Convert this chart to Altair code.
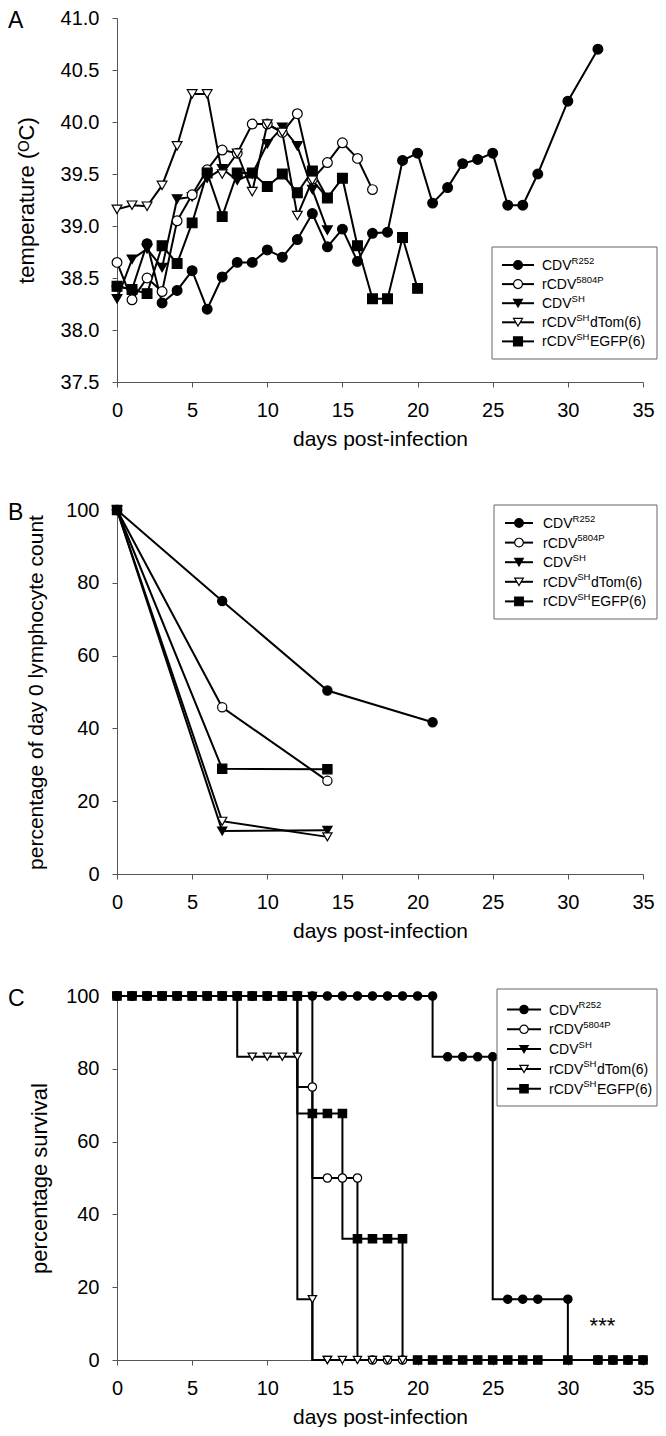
import altair as alt
import pandas as pd

FONT = "Liberation Sans"

# ---------------- series / legend definitions ----------------
SERIES = ["CDV R252", "rCDV 5804P", "CDV SH", "rCDV SH dTom(6)", "rCDV SH EGFP(6)"]
LEG_BASE = ["CDV", "rCDV", "CDV", "rCDV", "rCDV"]
LEG_SUP = ["R252", "5804P", "SH", "SH", "SH"]
LEG_SUFFIX = ["", "", "", "dTom(6)", "EGFP(6)"]
SHAPES = ["circle", "circle", "triangle-down", "triangle-down", "square"]
FILLS = ["black", "white", "black", "white", "black"]
DRAW_ORDER = ["CDV SH", "rCDV 5804P", "rCDV SH dTom(6)", "rCDV SH EGFP(6)", "CDV R252"]

X_TICKS = [0, 5, 10, 15, 20, 25, 30, 35]
A_Y_TICKS = [37.5, 38.0, 38.5, 39.0, 39.5, 40.0, 40.5, 41.0]
B_Y_TICKS = [0, 20, 40, 60, 80, 100]
C_Y_TICKS = [0, 20, 40, 60, 80, 100]

# ---------------- Panel A: temperature ----------------
A_R252_DAYS = [0, 1, 2, 3, 4, 5, 6, 7, 8, 9, 10, 11, 12, 13, 14, 15, 16, 17, 18, 19,
               20, 21, 22, 23, 24, 25, 26, 27, 28, 30, 32]
A_R252_VAL = [38.42, 38.39, 38.83, 38.26, 38.38, 38.57, 38.20, 38.51, 38.65, 38.65,
              38.77, 38.70, 38.87, 39.12, 38.80, 38.97, 38.66, 38.93, 38.94, 39.63,
              39.70, 39.22, 39.37, 39.60, 39.64, 39.70, 39.20, 39.20, 39.50, 40.20, 40.70]
A_5804P_DAYS = [0, 1, 2, 3, 4, 5, 6, 7, 8, 9, 10, 11, 12, 13, 14, 15, 16, 17]
A_5804P_VAL = [38.65, 38.29, 38.50, 38.37, 39.05, 39.30, 39.54, 39.73, 39.70, 39.98,
               39.98, 39.90, 40.08, 39.45, 39.61, 39.80, 39.65, 39.35]
A_SH_DAYS = [0, 1, 2, 3, 4, 5, 6, 7, 8, 9, 10, 11, 12, 13, 14]
A_SH_VAL = [38.30, 38.68, 38.78, 38.60, 39.26, 39.28, 39.46, 39.55, 39.44, 39.50,
            39.79, 39.95, 39.77, 39.35, 38.96]
A_DTOM_DAYS = [0, 1, 2, 3, 4, 5, 6, 7, 8, 9, 10, 11, 12, 13, 14]
A_DTOM_VAL = [39.16, 39.20, 39.19, 39.39, 39.77, 40.27, 40.27, 39.50, 39.70, 39.33,
              39.98, 39.90, 39.10, 39.44, 39.27]
A_EGFP_DAYS = [0, 1, 2, 3, 4, 5, 6, 7, 8, 9, 10, 11, 12, 13, 14, 15, 16, 17, 18, 19, 20]
A_EGFP_VAL = [38.42, 38.39, 38.35, 38.81, 38.64, 39.03, 39.51, 39.09, 39.51, 39.51,
              39.38, 39.50, 39.32, 39.53, 39.27, 39.46, 38.81, 38.30, 38.30, 38.89, 38.40]

# ---------------- Panel B: lymphocytes ----------------
B_R252_DAYS = [0, 7, 14, 21]
B_R252_VAL = [100, 75.0, 50.4, 41.7]
B_5804P_DAYS = [0, 7, 14]
B_5804P_VAL = [100, 45.8, 25.6]
B_SH_DAYS = [0, 7, 14]
B_SH_VAL = [100, 11.8, 12.0]
B_DTOM_DAYS = [0, 7, 14]
B_DTOM_VAL = [100, 14.5, 10.2]
B_EGFP_DAYS = [0, 7, 14]
B_EGFP_VAL = [100, 28.9, 28.8]

# ---------------- Panel C: survival ----------------
C_R252_DAYS = [0, 1, 2, 3, 4, 5, 6, 7, 8, 9, 10, 11, 12, 13, 14, 15, 16, 17, 18, 19, 20, 21,
               22, 23, 24, 25, 26, 27, 28, 30, 32, 33, 34, 35]
C_R252_VAL = [100, 100, 100, 100, 100, 100, 100, 100, 100, 100, 100, 100, 100, 100, 100,
              100, 100, 100, 100, 100, 100, 100,
              83.3, 83.3, 83.3, 83.3, 16.7, 16.7, 16.7, 16.7, 0, 0, 0, 0]
C_5804P_DAYS = [0, 1, 2, 3, 4, 5, 6, 7, 8, 9, 10, 11, 12, 13, 14, 15, 16, 17, 18, 19]
C_5804P_VAL = [100, 100, 100, 100, 100, 100, 100, 100, 100, 100, 100, 100, 100,
               75, 50, 50, 50, 0, 0, 0]
C_SH_DAYS = [0, 1, 2, 3, 4, 5, 6, 7, 8, 9, 10, 11, 12, 13, 14]
C_SH_VAL = [100, 100, 100, 100, 100, 100, 100, 100, 100, 100, 100, 100, 100, 100, 0]
C_DTOM_DAYS = [0, 1, 2, 3, 4, 5, 6, 7, 8, 9, 10, 11, 12, 13, 14, 15, 16, 17, 18, 19]
C_DTOM_VAL = [100, 100, 100, 100, 100, 100, 100, 100, 100, 83.3, 83.3, 83.3, 83.3,
              16.7, 0, 0, 0, 0, 0, 0]
C_EGFP_DAYS = [0, 1, 2, 3, 4, 5, 6, 7, 8, 9, 10, 11, 12, 13, 14, 15, 16, 17, 18, 19,
               20, 21, 22, 23, 24, 25, 26, 27, 28, 30, 32, 33, 34, 35]
C_EGFP_VAL = [100, 100, 100, 100, 100, 100, 100, 100, 100, 100, 100, 100, 100,
              67.7, 67.7, 67.7, 33.3, 33.3, 33.3, 33.3,
              0, 0, 0, 0, 0, 0, 0, 0, 0, 0, 0, 0, 0, 0]
C_STAR_DAY = [32.3]
C_STAR_VAL = [7.5]
C_STAR_TEXT = ["***"]

# ---------------- helpers ----------------
ARIAL = {"r": 333, "C": 722, "D": 722, "V": 667, "R": 722, "2": 556, "5": 556, "8": 556,
         "0": 556, "4": 556, "P": 667, "S": 667, "H": 722, "d": 556, "T": 611, "o": 556,
         "m": 833, "(": 333, "6": 556, ")": 333, "E": 667, "G": 778, "F": 611}


def text_w(s, fs):
    return sum(ARIAL.get(c, 556) for c in s) / 1000.0 * fs


def long_df(days_lists, val_lists):
    rows = []
    for s, ds, vs in zip(SERIES, days_lists, val_lists):
        for d, v in zip(ds, vs):
            rows.append({"series": s, "day": d, "val": v, "ord": DRAW_ORDER.index(s)})
    df = pd.DataFrame(rows)
    return df.sort_values(["ord", "day"], kind="stable").reset_index(drop=True)


AX = dict(grid=False, tickSize=5, tickColor="#555555", domainColor="#555555",
          labelFontSize=20, labelColor="black", labelFont=FONT, titleFont=FONT,
          titleColor="black", titleFontWeight="normal", labelFlush=False,
          labelOverlap=False)

SHAPE_ENC = alt.Shape("series:N", scale=alt.Scale(domain=SERIES, range=SHAPES), legend=None)
FILL_ENC = alt.Fill("series:N", scale=alt.Scale(domain=SERIES, range=FILLS), legend=None)

W = 526
H = 364


def main_group(df, ydom, yticks, yfmt, ytitle, ytitle_pad, ytitle_fs, interp, msize,
               extra=None):
    xenc = alt.X("day:Q", scale=alt.Scale(domain=[0, 35], nice=False),
                 axis=alt.Axis(values=X_TICKS, title="days post-infection", labelPadding=13,
                               titlePadding=8, titleFontSize=21, **AX))
    yenc = alt.Y("val:Q", scale=alt.Scale(domain=ydom, nice=False, zero=False),
                 axis=alt.Axis(values=yticks, format=yfmt, title=ytitle, labelPadding=13,
                               titlePadding=ytitle_pad, titleFontSize=ytitle_fs, **AX))
    line = alt.Chart(df).mark_line(color="black", strokeWidth=2, interpolate=interp).encode(
        x=xenc, y=yenc, detail="series:N", order="day:Q")
    pts = alt.Chart(df).mark_point(filled=True, size=msize, stroke="black", strokeWidth=1.2,
                                   opacity=1).encode(
        x="day:Q", y="val:Q", shape=SHAPE_ENC, fill=FILL_ENC)
    layers = [line, pts]
    if extra is not None:
        layers.append(extra)
    return alt.layer(*layers)


def legend_group(letter, box, y0, dy, sx0, sx1, lx, msize, fs=14, sfs=9.5):
    rows = []
    for i, s in enumerate(SERIES):
        y = y0 + i * dy
        bw = text_w(LEG_BASE[i], fs)
        sw = text_w(LEG_SUP[i], sfs)
        rows.append({"series": s, "y": y, "yb": y + 5, "ys": y - 1.5,
                     "x0": sx0, "x1": sx1, "xm": (sx0 + sx1) / 2.0,
                     "lx": lx, "sx": lx + bw, "fx": lx + bw + sw + 0.5,
                     "base": LEG_BASE[i], "sup": LEG_SUP[i], "suffix": LEG_SUFFIX[i]})
    ldf = pd.DataFrame(rows)
    bdf = pd.DataFrame({"bx0": [box[0]], "bx1": [box[1]], "by0": [box[2]], "by1": [box[3]]})
    tdf = pd.DataFrame({"t": [letter], "tx": [-109], "ty": [10]})

    def X(f):
        return alt.X(f, scale=None, axis=None)

    def Y(f):
        return alt.Y(f, scale=None, axis=None)

    rect = alt.Chart(bdf).mark_rect(fill="white", stroke="#666666", strokeWidth=1).encode(
        x=X("bx0:Q"), x2="bx1:Q", y=Y("by0:Q"), y2="by1:Q")
    rule = alt.Chart(ldf).mark_rule(color="black", strokeWidth=2).encode(
        x=X("x0:Q"), x2="x1:Q", y=Y("y:Q"))
    pts = alt.Chart(ldf).mark_point(filled=True, size=msize, stroke="black", strokeWidth=1.2,
                                    opacity=1).encode(
        x=X("xm:Q"), y=Y("y:Q"), shape=SHAPE_ENC, fill=FILL_ENC)
    t1 = alt.Chart(ldf).mark_text(align="left", baseline="alphabetic", fontSize=fs,
                                  font=FONT, color="black").encode(
        x=X("lx:Q"), y=Y("yb:Q"), text="base:N")
    t2 = alt.Chart(ldf).mark_text(align="left", baseline="alphabetic", fontSize=sfs,
                                  font=FONT, color="black").encode(
        x=X("sx:Q"), y=Y("ys:Q"), text="sup:N")
    t3 = alt.Chart(ldf).mark_text(align="left", baseline="alphabetic", fontSize=fs,
                                  font=FONT, color="black").encode(
        x=X("fx:Q"), y=Y("yb:Q"), text="suffix:N")
    let = alt.Chart(tdf).mark_text(align="left", baseline="alphabetic", fontSize=23,
                                   font=FONT, color="black").encode(
        x=X("tx:Q"), y=Y("ty:Q"), text="t:N")
    return alt.layer(rect, rule, pts, t1, t2, t3, let)


def panel(main, leg):
    return alt.layer(main, leg).resolve_scale(x="independent", y="independent").properties(
        width=W, height=H)


# ---------------- build panels ----------------
dfA = long_df([A_R252_DAYS, A_5804P_DAYS, A_SH_DAYS, A_DTOM_DAYS, A_EGFP_DAYS],
              [A_R252_VAL, A_5804P_VAL, A_SH_VAL, A_DTOM_VAL, A_EGFP_VAL])
dfB = long_df([B_R252_DAYS, B_5804P_DAYS, B_SH_DAYS, B_DTOM_DAYS, B_EGFP_DAYS],
              [B_R252_VAL, B_5804P_VAL, B_SH_VAL, B_DTOM_VAL, B_EGFP_VAL])
dfC = long_df([C_R252_DAYS, C_5804P_DAYS, C_SH_DAYS, C_DTOM_DAYS, C_EGFP_DAYS],
              [C_R252_VAL, C_5804P_VAL, C_SH_VAL, C_DTOM_VAL, C_EGFP_VAL])

star = alt.Chart(pd.DataFrame({"day": C_STAR_DAY, "val": C_STAR_VAL, "t": C_STAR_TEXT})).mark_text(
    align="center", baseline="alphabetic", fontSize=22, font=FONT, color="black").encode(
    x="day:Q", y="val:Q", text="t:N")

panelA = panel(
    main_group(dfA, [37.5, 41.0], A_Y_TICKS, ".1f", "temperature (\u1d3cC)", 22, 22,
               "linear", 95),
    legend_group("A", (375, 540, 229, 341), 247, 19.1, 385, 417, 425, 80))
panelB = panel(
    main_group(dfB, [0, 100], B_Y_TICKS, "d", "percentage of day 0 lymphocyte count", 19, 21,
               "linear", 85),
    legend_group("B", (377, 540, -5, 109), 13, 19.6, 388, 416, 426, 75))
panelC = panel(
    main_group(dfC, [0, 100], C_Y_TICKS, "d", "percentage survival", 14, 22,
               "step-before", 70, extra=star),
    legend_group("C", (380, 540, -7, 110), 13.5, 19.8, 390, 424, 432, 70))

chart = alt.vconcat(panelA, alt.vconcat(panelB, panelC, spacing=45), spacing=51).properties(
    padding=0).configure(font=FONT).configure_view(stroke=None)

chart.save("out.html", embed_options={"renderer": "svg", "actions": False})
